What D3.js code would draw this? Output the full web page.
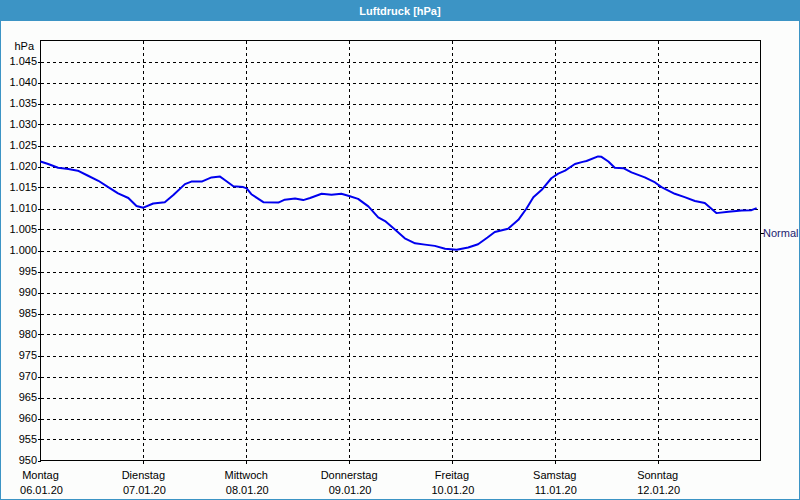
<!DOCTYPE html>
<html>
<head>
<meta charset="utf-8">
<script src="https://cdn.jsdelivr.net/npm/d3@7"></script>
<style>
  html, body { margin: 0; padding: 0; background: #fcfdfc; }
  svg { display: block; }
  text { font-family: "Liberation Sans", Arial, sans-serif; font-size: 11px; }
</style>
</head>
<body>
<script>
// ---- data ----
const title = "Luftdruck [hPa]";
const unitLabel = "hPa";
const dayLabels = ["Montag", "Dienstag", "Mittwoch", "Donnerstag", "Freitag", "Samstag", "Sonntag"];
const dateLabels = ["06.01.20", "07.01.20", "08.01.20", "09.01.20", "10.01.20", "11.01.20", "12.01.20"];
const dayStartHours = [0, 24, 48, 72, 96, 120, 144];
const yTickValues = [950, 955, 960, 965, 970, 975, 980, 985, 990, 995, 1000, 1005, 1010, 1015, 1020, 1025, 1030, 1035, 1040, 1045];
const normalValue = 1004.1;
const normalLabel = "Normal";
// hours since Monday 00:00
const hours = [0, 1.8, 4.1, 6.5, 8.7, 11.1, 13.5, 15.8, 18.1, 20.5, 22.4, 24.0, 26.3, 29.0, 31.0, 33.7, 35.2, 37.6, 39.9, 41.9,
  43.0, 45.0, 47.3, 48.1, 49.2, 52.0, 55.5, 57.0, 59.4, 61.3, 62.9, 65.6, 67.9, 70.2, 72.2, 74.1, 76.5, 78.8, 80.4, 82.7,
  85.0, 87.4, 89.7, 92.0, 94.4, 97.1, 99.8, 102.1, 104.3, 106.0, 109.1, 111.5, 113.4, 115.0, 116.9, 119.2, 120.8, 122.4,
  124.7, 126.5, 127.4, 130.1, 130.9, 132.5, 134.0, 136.0, 137.9, 141.0, 143.4, 144.9, 148.0, 150.3, 152.7, 155.0, 157.7,
  160.5, 163.6, 165.9, 167.1];
const pressure = [1021.2, 1020.6, 1019.7, 1019.4, 1019.0, 1017.8, 1016.6, 1015.1, 1013.6, 1012.5, 1010.6, 1010.2, 1011.2, 1011.5, 1013.2, 1015.8, 1016.4, 1016.4, 1017.4, 1017.6,
  1016.8, 1015.3, 1015.1, 1014.8, 1013.4, 1011.5, 1011.4, 1012.1, 1012.4, 1012.0, 1012.5, 1013.5, 1013.3, 1013.5, 1012.9, 1012.3, 1010.5, 1007.9, 1007.0, 1005.0,
  1002.9, 1001.7, 1001.4, 1001.1, 1000.4, 1000.2, 1000.7, 1001.5, 1003.1, 1004.4, 1005.2, 1007.3, 1010.0, 1012.7, 1014.4, 1017.2, 1018.3, 1019.0,
  1020.6, 1021.1, 1021.3, 1022.4, 1022.3, 1021.2, 1019.7, 1019.6, 1018.6, 1017.4, 1016.2, 1015.1, 1013.5, 1012.7, 1011.8, 1011.3, 1008.9,
  1009.2, 1009.5, 1009.6, 1010.1];

// ---- drawing ----
const W = 800, H = 500;
const barColor = "#3c94c5";
const svg = d3.select("body").append("svg").attr("width", W).attr("height", H);

svg.append("rect").attr("x", 0).attr("y", 0).attr("width", W).attr("height", H).attr("fill", "#fcfdfc");
svg.append("rect").attr("x", 0).attr("y", 0).attr("width", W).attr("height", 21).attr("fill", barColor);
svg.append("text").attr("x", W / 2).attr("y", 14.5).attr("text-anchor", "middle")
  .attr("fill", "#ffffff").attr("font-weight", "bold").text(title);

const x = d3.scaleLinear().domain([0, 168]).range([40.5, 760.5]);
const y = d3.scaleLinear().domain([950, 1050]).range([460.5, 40.5]);

const fmt = d3.formatLocale({ decimal: ",", thousands: ".", grouping: [3], currency: ["", "€"] }).format(",");

// horizontal gridlines
const g = svg.append("g");
g.selectAll("line.hg").data(yTickValues.filter(v => v > 950)).join("line")
  .attr("x1", x(0)).attr("x2", x(168))
  .attr("y1", d => Math.round(y(d)) + 0.5).attr("y2", d => Math.round(y(d)) + 0.5)
  .attr("stroke", "#000").attr("stroke-dasharray", "3,3").attr("shape-rendering", "crispEdges");
// vertical gridlines
g.selectAll("line.vg").data(dayStartHours.slice(1)).join("line")
  .attr("x1", d => Math.round(x(d)) + 0.5).attr("x2", d => Math.round(x(d)) + 0.5)
  .attr("y1", y(1050)).attr("y2", y(950) + 3)
  .attr("stroke", "#000").attr("stroke-dasharray", "3,3").attr("shape-rendering", "crispEdges");

// y axis ticks + labels
g.selectAll("line.yt").data(yTickValues).join("line")
  .attr("x1", x(0) - 3).attr("x2", x(0))
  .attr("y1", d => Math.round(y(d)) + 0.5).attr("y2", d => Math.round(y(d)) + 0.5)
  .attr("stroke", "#000").attr("shape-rendering", "crispEdges");
g.selectAll("text.yl").data(yTickValues).join("text")
  .attr("x", 37).attr("y", d => y(d)).attr("dy", "0.35em").attr("text-anchor", "end")
  .attr("fill", "#000").text(d => fmt(d));
svg.append("text").attr("x", 34).attr("y", 46).attr("dy", "0.35em").attr("text-anchor", "end")
  .attr("fill", "#000").text(unitLabel);

// x axis labels
g.selectAll("text.xd").data(dayLabels).join("text")
  .attr("x", (d, i) => x(dayStartHours[i])).attr("y", 479).attr("text-anchor", "middle")
  .attr("fill", "#000").text(d => d);
g.selectAll("text.xdt").data(dateLabels).join("text")
  .attr("x", (d, i) => x(dayStartHours[i]) + 1).attr("y", 494).attr("text-anchor", "middle")
  .attr("fill", "#000").text(d => d);

// frame
svg.append("rect").attr("x", x(0)).attr("y", y(1050)).attr("width", x(168) - x(0)).attr("height", y(950) - y(1050))
  .attr("fill", "none").attr("stroke", "#000").attr("stroke-width", 1).attr("shape-rendering", "crispEdges");

// normal marker on right axis
svg.append("line").attr("x1", x(168)).attr("x2", x(168) + 3)
  .attr("y1", Math.round(y(normalValue)) + 0.5).attr("y2", Math.round(y(normalValue)) + 0.5)
  .attr("stroke", "#000").attr("shape-rendering", "crispEdges");
svg.append("text").attr("x", 763).attr("y", y(normalValue)).attr("dy", "0.35em")
  .attr("fill", "#1c1c70").text(normalLabel);

// pressure line
const pts = hours.map((h, i) => [h, pressure[i]]);
svg.append("path").datum(pts)
  .attr("d", d3.line().x(d => x(d[0])).y(d => y(d[1])))
  .attr("fill", "none").attr("stroke", "#0000ee").attr("stroke-width", 2).attr("stroke-linejoin", "round");

// outer window border
svg.append("rect").attr("x", 0.5).attr("y", 0.5).attr("width", W - 1).attr("height", H - 1)
  .attr("fill", "none").attr("stroke", barColor).attr("stroke-width", 1);
</script>
</body>
</html>
